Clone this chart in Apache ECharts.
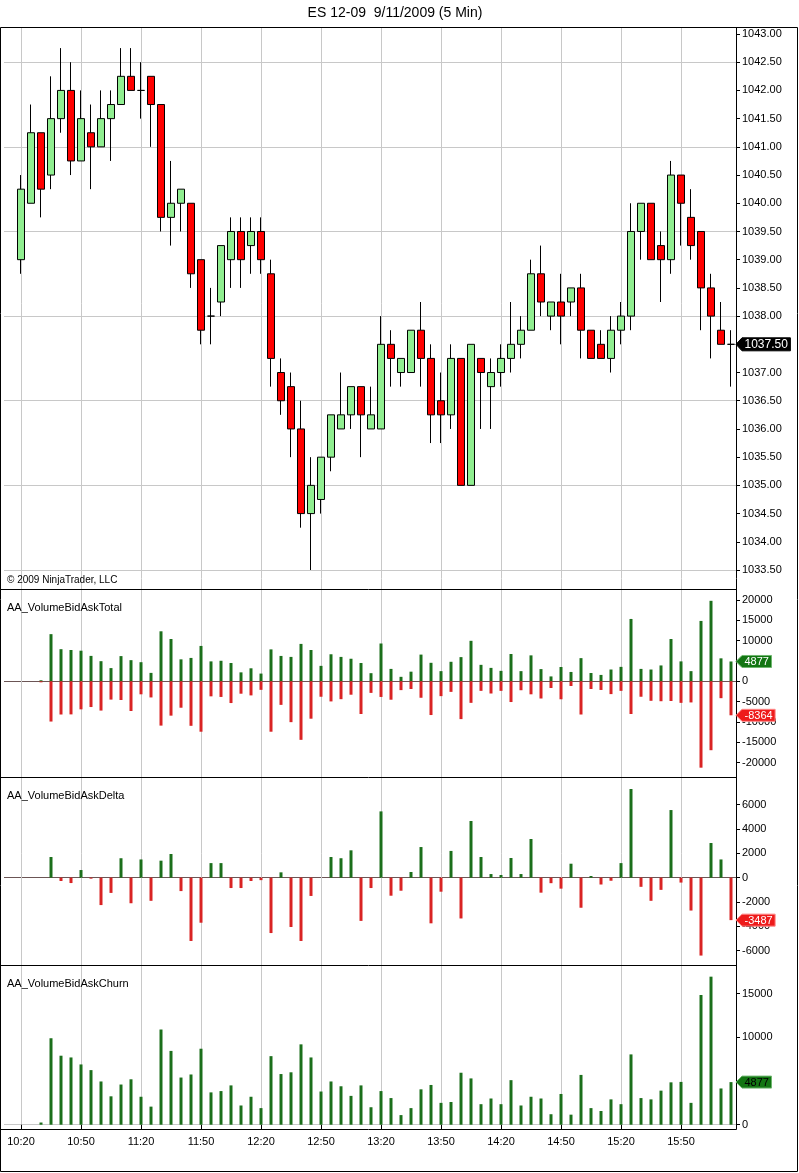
<!DOCTYPE html>
<html>
<head>
<meta charset="utf-8">
<title>ES 12-09 9/11/2009 (5 Min)</title>
<script src="https://cdn.jsdelivr.net/npm/echarts@6/dist/echarts.min.js"></script>
<style>
html, body { margin: 0; padding: 0; background: #fff; }
#chart { width: 799px; height: 1173px; }
</style>
</head>
<body>
<div id="chart"></div>
<script>
// 5 min bars
var times = [
  "10:20","10:25","10:30","10:35","10:40","10:45","10:50","10:55",
  "11:00","11:05","11:10","11:15","11:20","11:25","11:30","11:35","11:40","11:45","11:50","11:55",
  "12:00","12:05","12:10","12:15","12:20","12:25","12:30","12:35","12:40","12:45","12:50","12:55",
  "13:00","13:05","13:10","13:15","13:20","13:25","13:30","13:35","13:40","13:45","13:50","13:55",
  "14:00","14:05","14:10","14:15","14:20","14:25","14:30","14:35","14:40","14:45","14:50","14:55",
  "15:00","15:05","15:10","15:15","15:20","15:25","15:30","15:35","15:40","15:45","15:50","15:55",
  "16:00","16:05","16:10","16:15"
];

var opens = [
  1039.0,1040.0,1041.25,1040.5,1041.5,1042.0,1040.75,1041.25,1041.0,1041.5,
  1041.75,1042.25,1042.0,1042.25,1041.75,1039.75,1040.0,1040.0,1039.0,1038.0,
  1038.25,1039.0,1039.5,1039.25,1039.5,1038.75,1037.0,1036.75,1036.0,1034.5,
  1034.75,1035.5,1036.0,1036.25,1036.75,1036.0,1036.0,1037.5,1037.0,1037.0,
  1037.75,1037.25,1036.5,1036.25,1037.25,1035.0,1037.25,1036.75,1037.0,1037.25,
  1037.5,1037.75,1038.75,1038.0,1038.25,1038.25,1038.5,1037.75,1037.5,1037.25,
  1037.75,1038.0,1039.5,1040.0,1039.25,1039.0,1040.5,1039.75,1039.5,1038.5,
  1037.75,1037.5
];
var closes = [
  1040.25,1041.25,1040.25,1041.5,1042.0,1040.75,1041.5,1041.0,1041.5,1041.75,
  1042.25,1042.0,1042.0,1041.75,1039.75,1040.0,1040.25,1038.75,1037.75,1038.0,
  1039.25,1039.5,1039.0,1039.5,1039.0,1037.25,1036.5,1036.0,1034.5,1035.0,
  1035.5,1036.25,1036.25,1036.75,1036.25,1036.25,1037.5,1037.25,1037.25,1037.75,
  1037.25,1036.25,1036.25,1037.25,1035.0,1037.5,1037.0,1037.0,1037.25,1037.5,
  1037.75,1038.75,1038.25,1038.25,1038.0,1038.5,1037.75,1037.25,1037.25,1037.75,
  1038.0,1039.5,1040.0,1039.0,1039.0,1040.5,1040.0,1039.25,1038.5,1038.0,
  1037.5,1037.5
];
var highs = [
  1040.5,1041.75,1041.25,1042.25,1042.75,1042.5,1042.0,1041.75,1042.0,1042.0,
  1042.75,1042.75,1042.5,1042.25,1041.75,1040.75,1040.25,1040.0,1039.0,1038.5,
  1039.25,1039.75,1039.75,1039.75,1039.75,1039.0,1037.25,1037.0,1036.5,1035.5,
  1035.5,1036.25,1037.0,1036.75,1036.75,1036.75,1038.0,1037.75,1037.25,1037.75,
  1038.25,1037.5,1037.0,1037.5,1037.25,1037.5,1037.25,1037.25,1037.5,1038.25,
  1038.0,1039.0,1039.25,1038.25,1038.75,1038.5,1038.75,1037.75,1037.75,1038.0,
  1038.25,1040.0,1040.0,1040.0,1039.5,1040.75,1040.5,1040.25,1039.5,1038.75,
  1038.25,1037.75
];
var lows = [
  1038.75,1040.0,1039.75,1040.25,1041.25,1040.5,1040.75,1040.25,1041.0,1040.75,
  1041.75,1042.0,1041.5,1041.0,1039.5,1039.25,1039.5,1038.5,1037.5,1037.5,
  1038.0,1038.5,1038.5,1038.75,1038.75,1036.75,1036.25,1035.5,1034.25,1033.5,
  1034.5,1035.25,1036.0,1036.0,1035.5,1036.0,1036.0,1036.75,1036.75,1037.0,
  1036.75,1035.75,1035.75,1036.0,1035.0,1035.0,1036.0,1036.0,1036.75,1037.0,
  1037.25,1037.75,1038.0,1037.75,1037.5,1038.0,1037.25,1037.25,1037.25,1037.0,
  1037.5,1037.75,1039.0,1039.0,1038.25,1038.75,1039.25,1039.0,1037.75,1037.25,
  1037.5,1036.75
];

// AA_VolumeBidAskTotal
var askVolume = [
  null,null,250,11600,7900,7700,7530,6250,4950,3250,
  6200,5200,4700,2070,12300,10400,5400,5750,8700,4900,
  5050,4500,2200,3200,1900,7850,6240,6000,9200,7700,
  3800,6650,6000,5550,4500,2000,9300,3050,1100,2370,
  6570,4550,2500,4800,5950,9960,4050,3300,2570,6720,
  2500,6380,3000,1200,3520,2300,5700,2040,1570,2900,
  3550,15340,3050,2900,3900,10400,4900,2500,14850,19800,
  5650,4877
];
var bidVolume = [
  null,null,-250,-9900,-8170,-8140,-6900,-6330,-7200,-4500,
  -4600,-7300,-3200,-3970,-10900,-8450,-6500,-10950,-12400,-3700,
  -3850,-5350,-3050,-3470,-2100,-12400,-5800,-10050,-14400,-9200,
  -3800,-4950,-4400,-3300,-8050,-2850,-3850,-4530,-2170,-1900,
  -4050,-8300,-3650,-2600,-9300,-5300,-2350,-3000,-2350,-5100,
  -2200,-3200,-4230,-1650,-4420,-1150,-8170,-1900,-2130,-3150,
  -2350,-8050,-3800,-4800,-4900,-4850,-5300,-5200,-21250,-16950,
  -4150,-8364
];
// AA_VolumeBidAskDelta
var deltaVolume = [
  null,null,0,1700,-270,-440,630,-80,-2250,-1250,
  1600,-2100,1500,-1900,1400,1950,-1100,-5200,-3700,1200,
  1200,-850,-850,-270,-200,-4550,440,-4050,-5200,-1500,
  0,1700,1600,2250,-3550,-850,5450,-1480,-1070,470,
  2520,-3750,-1150,2200,-3350,4660,1700,300,220,1620,
  300,3180,-1230,-450,-900,1150,-2470,140,-560,-250,
  1200,7290,-750,-1900,-1000,5560,-400,-2700,-6400,2850,
  1500,-3487
];
// AA_VolumeBidAskChurn
var churnVolume = [
  null,null,250,9900,7900,7700,6900,6250,4950,3250,
  4600,5200,3200,2070,10900,8450,5400,5750,8700,3700,
  3850,4500,2200,3200,1900,7850,5800,6000,9200,7700,
  3800,4950,4400,3300,4500,2000,3850,3050,1100,1900,
  4050,4550,2500,2600,5950,5300,2350,3000,2350,5100,
  2200,3200,3000,1200,3520,1150,5700,1900,1570,2900,
  2350,8050,3050,2900,3900,4850,4900,2500,14850,16950,
  4150,4877
];

var GREEN = '#1b6f1b', RED = '#d92323', GRIDC = '#c8c8c8', ZEROC = '#6b5555';
var FONT = 'Liberation Sans';
var CSSFONT = '"Liberation Sans", Arial, sans-serif';

var candleData = opens.map(function (o, i) {
  return [o, closes[i], lows[i], highs[i]];
});

function labelAxis(gi, min, max, interval, fmt) {
  return {
    type: 'value', gridIndex: gi, position: 'right',
    min: min, max: max, interval: interval,
    axisLine: {show: false},
    axisTick: {show: true, length: 4, lineStyle: {color: '#000'}},
    axisLabel: {show: true, margin: 6, color: '#000', fontSize: 11, fontFamily: FONT, formatter: fmt},
    splitLine: {show: false}
  };
}
function lineAxis(gi, min, max, interval, color, showEnds) {
  return {
    type: 'value', gridIndex: gi, min: min, max: max, interval: interval,
    axisLine: {show: false}, axisTick: {show: false}, axisLabel: {show: false},
    splitLine: {show: true, showMinLine: showEnds, showMaxLine: false, lineStyle: {color: color, width: 1}}
  };
}
function hiddenCat(gi) {
  return {type: 'category', gridIndex: gi, data: times, show: false};
}
function hiddenVal(gi) {
  return {type: 'value', gridIndex: gi, min: 0, max: 1, show: false};
}
var every6 = function (i) { return i % 6 === 0; };
var plain = function (v) { return String(v); };

var option = {
  animation: false,
  backgroundColor: '#fff',
  grid: [
    {left: 16, width: 720, top: 34, height: 536, outerBoundsMode: 'none'},      // price
    {left: 16, width: 720, top: 600, height: 162.6, outerBoundsMode: 'none'},   // total
    {left: 16, width: 720, top: 804.7, height: 146, outerBoundsMode: 'none'},   // delta
    {left: 16, width: 720, top: 993.7, height: 131, outerBoundsMode: 'none'},   // churn
    {left: 21, width: 720, top: 28, height: 1101, outerBoundsMode: 'none'},     // vertical grid lines
    {left: 4, width: 732, top: 34, height: 536, outerBoundsMode: 'none'},       // price grid lines
    {left: 4, width: 732, top: 993.7, height: 131, outerBoundsMode: 'none'},    // churn grid lines
    {left: 4, width: 732, top: 600, height: 162.6, outerBoundsMode: 'none'},    // total zero line
    {left: 4, width: 732, top: 804.7, height: 146, outerBoundsMode: 'none'}     // delta zero line
  ],
  xAxis: [
    hiddenCat(0),
    hiddenCat(1),
    hiddenCat(2),
    {
      type: 'category', gridIndex: 3, data: times, offset: 5,
      axisLine: {show: false},
      axisTick: {show: true, alignWithLabel: true, length: 5, interval: every6, lineStyle: {color: '#000'}},
      axisLabel: {interval: every6, margin: 7, color: '#000', fontSize: 11, fontFamily: FONT},
      splitLine: {show: false}
    },
    {
      type: 'value', gridIndex: 4, min: 0, max: 72, interval: 6,
      axisLine: {show: false}, axisTick: {show: false}, axisLabel: {show: false},
      splitLine: {show: true, showMinLine: true, showMaxLine: false, lineStyle: {color: GRIDC, width: 1}}
    },
    hiddenVal(5), hiddenVal(6), hiddenVal(7), hiddenVal(8)
  ],
  yAxis: [
    labelAxis(0, 1033.5, 1043, 0.5, function (v) { return v.toFixed(2); }),
    labelAxis(1, -20000, 20000, 5000, plain),
    labelAxis(2, -6000, 6000, 2000, plain),
    labelAxis(3, 0, 15000, 5000, plain),
    {type: 'value', gridIndex: 4, min: 0, max: 1, show: false},
    lineAxis(5, 1033.5, 1043, 1.5, GRIDC, true),
    lineAxis(6, 0, 15000, 15000, GRIDC, true),
    lineAxis(7, -20000, 20000, 20000, ZEROC, false),
    lineAxis(8, -6000, 6000, 6000, ZEROC, false)
  ],
  series: [
    {
      type: 'candlestick', xAxisIndex: 0, yAxisIndex: 0,
      data: candleData, barWidth: 7,
      itemStyle: {
        color: '#90ee90', color0: '#ff0000',
        borderColor: '#000', borderColor0: '#000', borderColorDoji: '#000',
        borderWidth: 1
      }
    },
    {
      type: 'bar', xAxisIndex: 1, yAxisIndex: 1, data: askVolume,
      barWidth: 3, barGap: '-100%', clip: false, itemStyle: {color: GREEN}
    },
    {
      type: 'bar', xAxisIndex: 1, yAxisIndex: 1, data: bidVolume,
      barWidth: 3, barGap: '-100%', clip: false, itemStyle: {color: RED}
    },
    {
      type: 'bar', xAxisIndex: 2, yAxisIndex: 2, data: deltaVolume,
      barWidth: 3, clip: false,
      itemStyle: {color: function (p) { return p.value >= 0 ? GREEN : RED; }}
    },
    {
      type: 'bar', xAxisIndex: 3, yAxisIndex: 3, data: churnVolume,
      barWidth: 3, clip: false, itemStyle: {color: GREEN}
    }
  ]
};

var chart = echarts.init(document.getElementById('chart'));
chart.setOption(option);

// value flags on the right axis
var measureCtx = document.createElement('canvas').getContext('2d');
function flag(axisIndex, value, text, fill, stroke, textColor, size) {
  var y = chart.convertToPixel({yAxisIndex: axisIndex}, value);
  measureCtx.font = size + 'px ' + CSSFONT;
  var w = measureCtx.measureText(text).width + 5;
  var x0 = 736, x1 = 742, h = size === 12 ? 6.5 : 6;
  return {
    type: 'group', z: 100, children: [
      {type: 'polygon', z: 100, zlevel: 0,
       shape: {points: [[x0, y], [x1, y - h], [x1 + w, y - h], [x1 + w, y + h], [x1, y + h]]},
       style: {fill: fill, stroke: stroke, lineWidth: 1}},
      {type: 'text', z: 101, x: x1 + 2.5, y: y + 0.5,
       style: {text: text, fill: textColor, font: size + 'px ' + CSSFONT, align: 'left', verticalAlign: 'middle'}}
    ]
  };
}
function line(x1, y1, x2, y2) {
  return {type: 'line', z: 20, shape: {x1: x1, y1: y1, x2: x2, y2: y2}, style: {stroke: '#000', lineWidth: 1}};
}
function label(x, y, text, size) {
  return {type: 'text', z: 20, x: x, y: y,
          style: {text: text, fill: '#000', font: size + 'px ' + CSSFONT, align: 'left', verticalAlign: 'middle'}};
}

var last = times.length - 1;
var elements = [
  {type: 'text', z: 20, x: 395, y: 13,
   style: {text: 'ES 12-09  9/11/2009 (5 Min)', fill: '#000', font: '14px ' + CSSFONT, align: 'center', verticalAlign: 'middle'}},
  {type: 'rect', z: 20, shape: {x: 0.5, y: 27.5, width: 797, height: 1144}, style: {fill: 'none', stroke: '#000', lineWidth: 1}},
  line(0.5, 589.5, 736.5, 589.5),
  line(0.5, 777.5, 736.5, 777.5),
  line(0.5, 965.5, 736.5, 965.5),
  line(736.5, 27.5, 736.5, 1129.5),
  line(0.5, 1129.5, 736.5, 1129.5),
  label(7, 580, '\u00a9 2009 NinjaTrader, LLC', 10),
  label(7, 608, 'AA_VolumeBidAskTotal', 11),
  label(7, 796, 'AA_VolumeBidAskDelta', 11),
  label(7, 984, 'AA_VolumeBidAskChurn', 11),
  flag(0, closes[last], closes[last].toFixed(2), '#000', '#000', '#fff', 12),
  flag(1, askVolume[last], String(askVolume[last]), '#127512', '#6fb86f', '#fff', 11),
  flag(1, bidVolume[last], String(bidVolume[last]), '#ee1b1b', '#ff8a8a', '#fff', 11),
  flag(2, deltaVolume[last], String(deltaVolume[last]), '#ee1b1b', '#ff8a8a', '#fff', 11),
  flag(3, churnVolume[last], String(churnVolume[last]), '#127512', '#6fb86f', '#000', 11)
];
chart.setOption({graphic: {elements: elements}});
</script>
</body>
</html>
